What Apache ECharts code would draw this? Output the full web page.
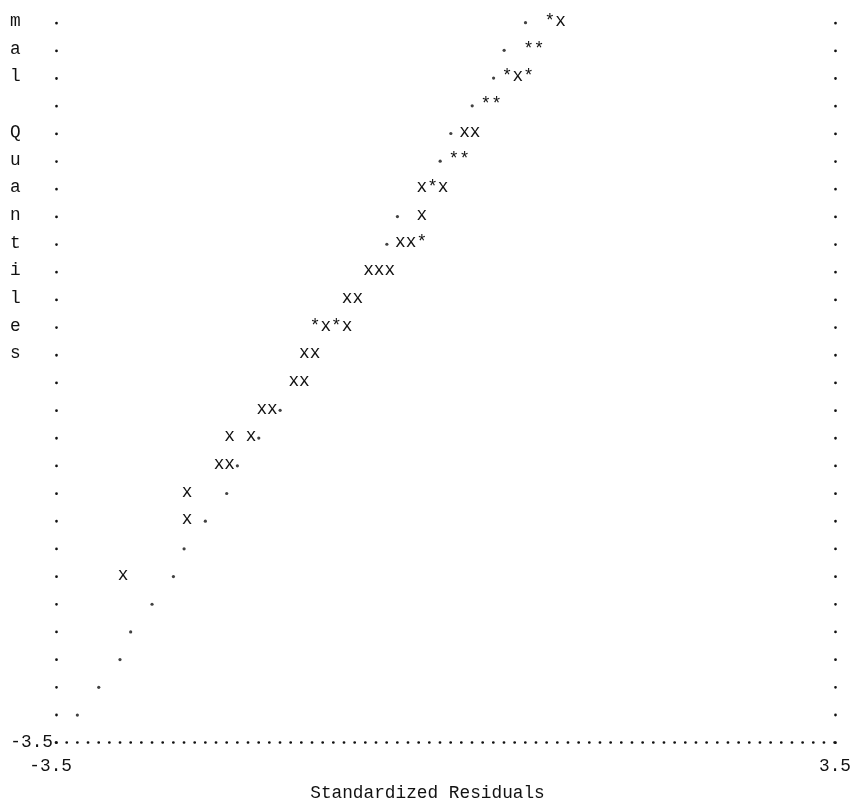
<!DOCTYPE html>
<html><head><meta charset="utf-8">
<script src="https://cdn.jsdelivr.net/npm/echarts@6/dist/echarts.min.js"></script>
<style>html,body{margin:0;padding:0;background:#fff}#c{width:857px;height:803px}</style>
</head><body><div id="c"></div>
<script>
// ---- data ----
const axisMin = -3.5;
const axisMax = 3.5;
const xTickLabels = [-3.5, 3.5];
const yTickLabels = [-3.5];
const xTitle = 'Standardized Residuals';
const yTitleShown = ['m', 'a', 'l', ' ', 'Q', 'u', 'a', 'n', 't', 'i', 'l', 'e', 's'];

// [standardized residual, normal quantile] plotted with "x" (one obs)
const singleObs = [
  [1.007, 3.5],
  [0.623, 2.962],
  [0.144, 2.423], [0.240, 2.423],
  [-0.240, 1.885], [-0.048, 1.885],
  [-0.240, 1.615],
  [-0.432, 1.346], [-0.336, 1.346],
  [-0.719, 1.077], [-0.623, 1.077], [-0.527, 1.077],
  [-0.911, 0.808], [-0.815, 0.808],
  [-1.103, 0.538], [-0.911, 0.538],
  [-1.295, 0.269], [-1.199, 0.269],
  [-1.390, 0.0], [-1.295, 0.0],
  [-1.678, -0.269], [-1.582, -0.269],
  [-1.966, -0.538], [-1.774, -0.538],
  [-2.062, -0.808], [-1.966, -0.808],
  [-2.349, -1.077],
  [-2.349, -1.346],
  [-2.925, -1.885]
];
// plotted with "*" (several obs)
const multiObs = [
  [0.911, 3.5],
  [0.719, 3.231], [0.815, 3.231],
  [0.527, 2.962], [0.719, 2.962],
  [0.336, 2.692], [0.432, 2.692],
  [0.048, 2.154], [0.144, 2.154],
  [-0.144, 1.885],
  [-0.240, 1.346],
  [-1.199, 0.538], [-1.007, 0.538]
];
// reference normal line, plotted with "."
const normalLine = [
  [0.719, 3.5], [0.527, 3.231], [0.432, 2.962], [0.240, 2.692],
  [0.048, 2.423], [-0.048, 2.154], [-0.432, 1.615], [-0.527, 1.346],
  [-1.486, -0.269], [-1.678, -0.538], [-1.870, -0.808], [-1.966, -1.077],
  [-2.158, -1.346], [-2.349, -1.615], [-2.445, -1.885], [-2.637, -2.154],
  [-2.829, -2.423], [-2.925, -2.692], [-3.116, -2.962], [-3.308, -3.231]
];

// ---- styling ----
const FONT_FAMILY = '"Liberation Mono", "DejaVu Sans Mono", monospace';
const FONT_SIZE = 17.78;
const INK = '#111';
const GRID = { left: 56, right: 22, top: 22.7, bottom: 60.3 };
const colStep = (857 - GRID.left - GRID.right) / 73;
const rowStep = (803 - GRID.top - GRID.bottom) / 26;
const dotX = { color: INK, width: 2.7, type: [0.1, colStep - 0.106], cap: 'round' };
const dotY = { color: INK, width: 2.7, type: [0.1, rowStep - 0.12], cap: 'round' };

function glyphSeries(name, data, ch) {
  return {
    name: name, type: 'custom', data: data, silent: true, clip: false,
    renderItem: function (params, api) {
      const p = api.coord([api.value(0), api.value(1)]);
      return {
        type: 'text', x: p[0] + colStep * 0.28, y: p[1] - 1.5,
        style: { text: ch, fill: INK, fontFamily: FONT_FAMILY, fontSize: FONT_SIZE,
                 align: 'center', verticalAlign: 'middle' }
      };
    }
  };
}

const chart = echarts.init(document.getElementById('c'), null, { renderer: 'canvas' });
chart.setOption({
  backgroundColor: '#fff',
  animation: false,
  grid: Object.assign({ containLabel: false, outerBoundsMode: 'none' }, GRID),
  xAxis: {
    type: 'value', min: axisMin, max: axisMax, interval: 3.5,
    axisLine: { show: true, onZero: false, lineStyle: dotX },
    axisTick: { show: false }, splitLine: { show: false },
    axisLabel: {
      margin: 15, color: INK, fontFamily: FONT_FAMILY, fontSize: FONT_SIZE,
      formatter: function (v) {
        if (xTickLabels.indexOf(v) < 0) return '';
        return v < 0 ? String(v) + ' ' : String(v);
      },
      showMinLabel: true, showMaxLabel: true
    },
    name: xTitle, nameLocation: 'middle', nameGap: 42,
    nameTextStyle: { color: INK, fontFamily: FONT_FAMILY, fontSize: FONT_SIZE, padding: [0, 36, 0, 0] }
  },
  yAxis: [{
    type: 'value', min: axisMin, max: axisMax, interval: 3.5, position: 'left',
    axisLine: { show: true, onZero: false, lineStyle: dotY },
    axisTick: { show: false }, splitLine: { show: false },
    axisLabel: {
      margin: 3, color: INK, fontFamily: FONT_FAMILY, fontSize: FONT_SIZE,
      padding: [0, 0, 3, 0],
      formatter: function (v) { return yTickLabels.indexOf(v) < 0 ? '' : String(v); },
      showMinLabel: true, showMaxLabel: false
    }
  }, {
    type: 'value', min: axisMin, max: axisMax, interval: 3.5, position: 'right',
    axisLine: { show: true, onZero: false, lineStyle: dotY },
    axisTick: { show: false }, splitLine: { show: false }, axisLabel: { show: false }
  }],
  graphic: [{
    type: 'text', left: 10, top: 7.5, silent: true,
    style: { text: yTitleShown.join('\n'), fill: INK, fontFamily: FONT_FAMILY,
             fontSize: FONT_SIZE, lineHeight: rowStep, align: 'left' }
  }],
  series: [
    {
      name: 'normal line', type: 'scatter', data: normalLine, silent: true,
      symbol: 'circle', symbolSize: 3.2, itemStyle: { color: INK }
    },
    glyphSeries('single', singleObs, 'x'),
    glyphSeries('multiple', multiObs, '*')
  ]
});
</script>
</body></html>
